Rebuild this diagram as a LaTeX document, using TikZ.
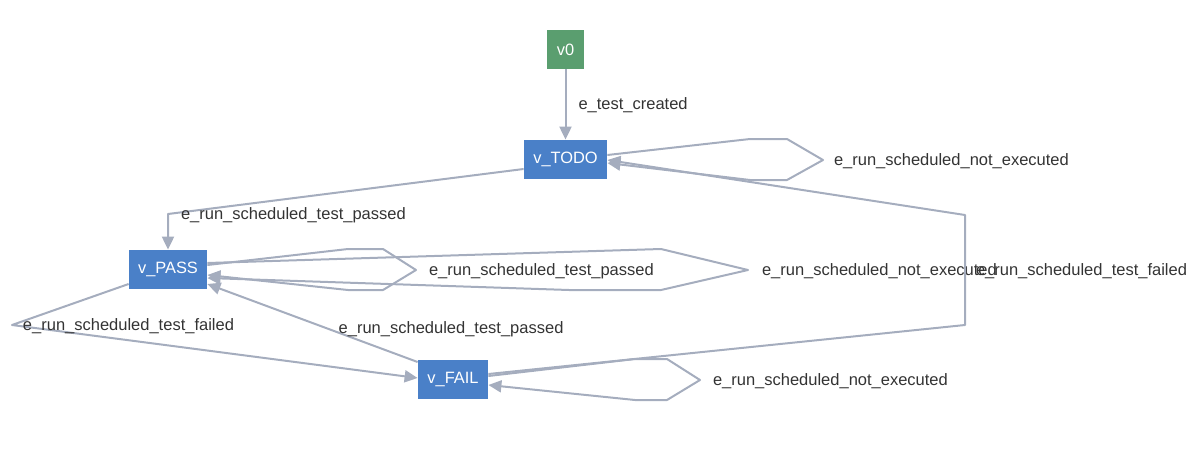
\documentclass[tikz,border=0pt]{standalone}
\usepackage{fontspec}
\setmainfont{Liberation Sans}
\usetikzlibrary{arrows.meta}
\definecolor{vgreen}{HTML}{5A9E6F}
\definecolor{vblue}{HTML}{4A80C8}
\definecolor{egray}{HTML}{A5ADBE}
\definecolor{ltext}{HTML}{333333}
\begin{document}
\begin{tikzpicture}[x=0.5pt,y=-0.5pt,>={Triangle[length=6.5pt,width=6pt]},
	vert/.style={fill=vblue,text=white,minimum height=19.5pt,inner sep=0pt,font=\fontsize{8.2}{9}\selectfont},
	edge/.style={->,draw=egray,line width=1pt,line join=round},
	elabel/.style={right,text=ltext,inner sep=0pt,yshift=-0.5pt,font=\fontsize{8.25}{9}\selectfont}]
	\useasboundingbox (0,0) rectangle (1200,450);
	\node[vert,fill=vgreen,minimum width=18.5pt] (v0) at (565.5,49.5) {v0};
	\node[vert,minimum width=41.5pt] (todo) at (565.5,159.5) {v\_TODO};
	\node[vert,minimum width=39pt] (pass) at (168,269.5) {v\_PASS};
	\node[vert,minimum width=35pt] (fail) at (453,379.5) {v\_FAIL};
	\draw[edge] (v0) -- (todo) node[elabel,midway,xshift=6pt] (l0) {e\_test\_created};
	\draw[edge] (todo.east |- 0,155) -- (750,139) -- (787,139) -- (823,160) node[elabel,xshift=5pt] (l1) {e\_run\_scheduled\_not\_executed} -- (787,180) -- (750,180) -- (todo.east |- 0,163);
	\draw[edge] (todo.west |- 0,169) -- (168,214) node[elabel,xshift=6pt] (l2) {e\_run\_scheduled\_test\_passed} -- (pass);
	\draw[edge] (pass.east |- 0,265) -- (348,249) -- (383,249) -- (416,270) node[elabel,xshift=6pt] (l3) {e\_run\_scheduled\_test\_passed} -- (383,290) -- (348,290) -- (pass.east |- 0,275);
	\draw[edge] (pass.east |- 0,263) -- (661,249) -- (748,270) node[elabel,xshift=6.5pt] (l4) {e\_run\_scheduled\_not\_executed} -- (661,290) -- (569,290) -- (pass.east |- 0,278);
	\draw[edge] (pass.west |- 0,284) -- (12,325) node[elabel,xshift=5pt] (l5) {e\_run\_scheduled\_test\_failed} -- (fail.west |- 0,378);
	\draw[edge] (fail.west |- 0,362) -- (pass.east |- 0,284) node[elabel,pos=0.38,yshift=2pt] (l6) {e\_run\_scheduled\_test\_passed};
	\draw[edge] (fail.east |- 0,374) -- (965,325) -- (965,215) node[elabel,midway,xshift=5pt] (l7) {e\_run\_scheduled\_test\_failed} -- (todo.east |- 0,160);
	\draw[edge] (fail.east |- 0,376) -- (635,359) -- (667,359) -- (700,380) node[elabel,xshift=6pt] (l8) {e\_run\_scheduled\_not\_executed} -- (667,400) -- (635,400) -- (fail.east |- 0,385);
\end{tikzpicture}
\end{document}
